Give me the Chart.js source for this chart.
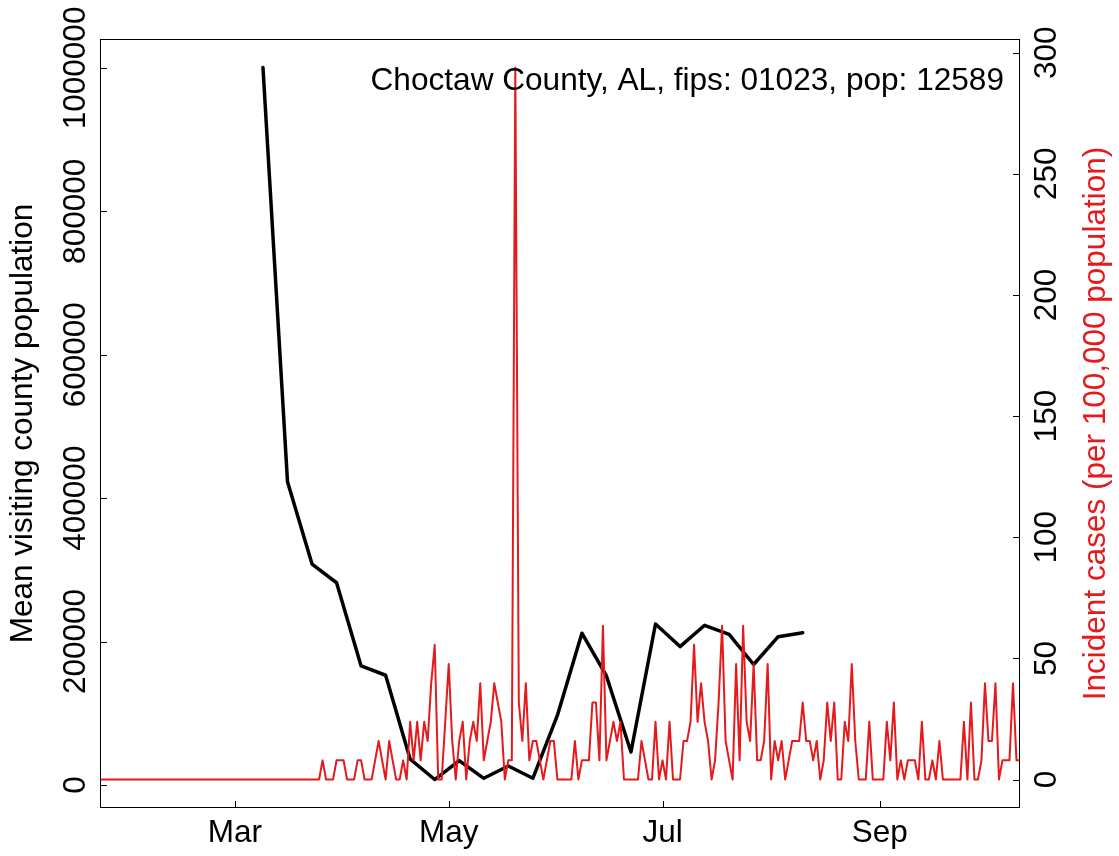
<!DOCTYPE html>
<html>
<head>
<meta charset="utf-8">
<script src="https://cdn.jsdelivr.net/npm/chart.js"></script>
<style>
  html, body { margin: 0; padding: 0; background: #fff; }
  #wrap { width: 1119px; height: 856px; }
</style>
</head>
<body>
<div id="wrap"><canvas id="chart"></canvas></div>
<script>
// x positions are days counted from 1 Mar 2020
const monthTicks = [0, 61, 122, 184];
const monthLabels = ['Mar', 'May', 'Jul', 'Sep'];
const leftTicks = [0, 200000, 400000, 600000, 800000, 1000000];
const rightTicks = [0, 50, 100, 150, 200, 250, 300];

const mobilityDays = [8, 15, 22, 29, 36, 43, 50, 57, 64, 71, 78, 85, 92, 99, 106, 113, 120, 127, 134, 141, 148, 155, 162];
const mobilityMean = [1000600, 423000, 308000, 282000, 166000, 153000, 36000, 7600, 34000, 9300, 26500, 9300,
  97000, 211600, 152000, 46000, 224500, 193000, 222700, 210000, 168000, 206800, 212400];

// daily incident cases per 100,000, starting 22 Jan (day -39)
const caseStartDay = -39;
const caseRate = [
  0, 0, 0, 0, 0, 0, 0, 0, 0, 0, 0, 0, 0, 0, 0, 0,
  0, 0, 0, 0, 0, 0, 0, 0, 0, 0, 0, 0, 0, 0, 0, 0,
  0, 0, 0, 0, 0, 0, 0, 0, 0, 0, 0, 0, 0, 0, 0, 0,
  0, 0, 0, 0, 0, 0, 0, 0, 0, 0, 0, 0, 0, 0, 0, 0,
  7.9, 0, 0, 0, 7.9, 7.9, 7.9, 0, 0, 0,
  7.9, 7.9, 0, 0, 0, 7.9, 15.9, 7.9, 0, 15.9,
  7.9, 0, 0, 7.9, 0, 23.8, 7.9, 23.8, 7.9, 23.8,
  15.9, 39.7, 55.6, 0, 0, 23.8, 47.7, 15.9, 0, 15.9,
  23.8, 0, 15.9, 23.8, 15.9, 39.7, 7.9, 15.9, 23.8, 39.7,
  31.8, 23.8, 0, 7.9, 7.9, 293.9, 31.8, 15.9, 39.7, 7.9,
  15.9, 15.9, 7.9, 0, 7.9, 15.9, 15.9, 0, 0, 0,
  0, 0, 15.9, 0, 7.9, 7.9, 7.9, 31.8, 31.8, 7.9,
  63.5, 7.9, 15.9, 23.8, 15.9, 23.8, 0, 0, 0, 0,
  0, 15.9, 7.9, 0, 0, 23.8, 0, 7.9, 0, 23.8,
  0, 0, 0, 15.9, 15.9, 23.8, 55.6, 23.8, 39.7, 23.8,
  15.9, 0, 7.9, 31.8, 63.5, 15.9, 7.9, 0, 47.7, 7.9,
  63.5, 23.8, 15.9, 47.7, 7.9, 7.9, 15.9, 47.7, 0, 15.9,
  7.9, 15.9, 0, 7.9, 15.9, 15.9, 15.9, 31.8, 15.9, 15.9,
  7.9, 15.9, 0, 7.9, 31.8, 15.9, 31.8, 0, 0, 23.8,
  15.9, 47.7, 15.9, 0, 0, 0, 23.8, 0, 0, 0,
  0, 23.8, 7.9, 31.8, 0, 7.9, 0, 7.9, 7.9, 7.9,
  0, 23.8, 0, 0, 7.9, 0, 15.9, 0, 0, 0,
  0, 0, 0, 23.8, 0, 31.8, 0, 0, 7.9, 39.7,
  15.9, 15.9, 39.7, 0, 7.9, 7.9, 7.9, 39.7, 7.9, 7.9
];

const annotation = 'Choctaw County, AL, fips: 01023, pop: 12589';
const rightTitle = 'Incident cases (per 100,000 population)';

const RED = '#e41a1c';
const FAMILY = "'Liberation Sans', Arial, Helvetica, sans-serif";
const FONT = { family: FAMILY, size: 31.5 };

const framePlugin = {
  id: 'frame',
  afterDraw(chart) {
    const { ctx, chartArea: a, scales } = chart;
    ctx.save();
    ctx.strokeStyle = '#000';
    ctx.lineWidth = 1;
    ctx.strokeRect(a.left + 0.5, a.top + 0.5, a.right - a.left - 1, a.bottom - a.top - 1);

    // ticks point inward
    ctx.beginPath();
    scales.x.ticks.forEach((t) => {
      const px = Math.round(scales.x.getPixelForValue(t.value)) + 0.5;
      ctx.moveTo(px, a.bottom);
      ctx.lineTo(px, a.bottom - 7);
    });
    scales.y.ticks.forEach((t) => {
      const py = Math.round(scales.y.getPixelForValue(t.value)) + 0.5;
      ctx.moveTo(a.left, py);
      ctx.lineTo(a.left + 7, py);
    });
    scales.y2.ticks.forEach((t) => {
      const py = Math.round(scales.y2.getPixelForValue(t.value)) + 0.5;
      ctx.moveTo(a.right, py);
      ctx.lineTo(a.right - 7, py);
    });
    ctx.stroke();

    ctx.font = `31.6px ${FAMILY}`;
    ctx.fillStyle = '#000';
    ctx.textAlign = 'right';
    ctx.textBaseline = 'alphabetic';
    ctx.fillText(annotation, a.right - 16, a.top + 50.5);

    ctx.font = `${FONT.size}px ${FAMILY}`;
    ctx.translate(1105, (a.top + a.bottom) / 2);
    ctx.rotate(-Math.PI / 2);
    ctx.fillStyle = RED;
    ctx.textAlign = 'center';
    ctx.fillText(rightTitle, 0, 0);
    ctx.restore();
  }
};

const ctx = document.getElementById('chart');

new Chart(ctx, {
  type: 'line',
  data: {
    datasets: [
      {
        label: 'Incident cases',
        data: caseRate.map((v, i) => ({ x: caseStartDay + i, y: v })),
        yAxisID: 'y2',
        borderColor: RED,
        borderWidth: 2,
        pointRadius: 0,
        tension: 0,
        borderJoinStyle: 'round',
        borderCapStyle: 'round',
      },
      {
        label: 'Mean visiting county population',
        data: mobilityDays.map((d, i) => ({ x: d, y: mobilityMean[i] })),
        yAxisID: 'y',
        borderColor: '#000',
        borderWidth: 3.5,
        pointRadius: 0,
        tension: 0,
        borderJoinStyle: 'round',
        borderCapStyle: 'round',
      },
    ],
  },
  options: {
    responsive: true,
    maintainAspectRatio: false,
    animation: false,
    events: [],
    layout: { padding: { top: 39, left: 0, right: 0, bottom: 0 } },
    plugins: {
      legend: { display: false },
      tooltip: { enabled: false },
    },
    scales: {
      x: {
        type: 'linear',
        position: 'bottom',
        min: -38.5,
        max: 224,
        afterBuildTicks: (s) => { s.ticks = monthTicks.map((v) => ({ value: v })); },
        afterFit: (s) => { s.height = 48; },
        ticks: {
          callback: (v) => monthLabels[monthTicks.indexOf(v)],
          font: FONT,
          color: '#000',
          padding: 6,
          maxRotation: 0,
          autoSkip: false,
        },
        grid: { display: false, drawTicks: false },
        border: { display: false },
      },
      y: {
        position: 'left',
        min: -32120,
        max: 1040320,
        afterBuildTicks: (s) => { s.ticks = leftTicks.map((v) => ({ value: v })); },
        afterFit: (s) => { s.width = 100; },
        ticks: {
          callback: (v) => String(v),
          font: FONT,
          color: '#000',
          minRotation: 90,
          maxRotation: 90,
          crossAlign: 'center',
          padding: -37.7,
        },
        title: {
          display: true,
          text: 'Mean visiting county population',
          font: FONT,
          color: '#000',
          padding: { top: 4.8, bottom: 0 },
        },
        grid: { display: false, drawTicks: false },
        border: { display: false },
      },
      y2: {
        position: 'right',
        min: -11.76,
        max: 305.66,
        afterBuildTicks: (s) => { s.ticks = rightTicks.map((v) => ({ value: v })); },
        afterFit: (s) => { s.width = 99; },
        ticks: {
          callback: (v) => String(v),
          font: FONT,
          color: '#000',
          minRotation: 90,
          maxRotation: 90,
          crossAlign: 'center',
          padding: 1,
        },
        grid: { display: false, drawTicks: false },
        border: { display: false },
      },
    },
  },
  plugins: [framePlugin],
});
</script>
</body>
</html>
